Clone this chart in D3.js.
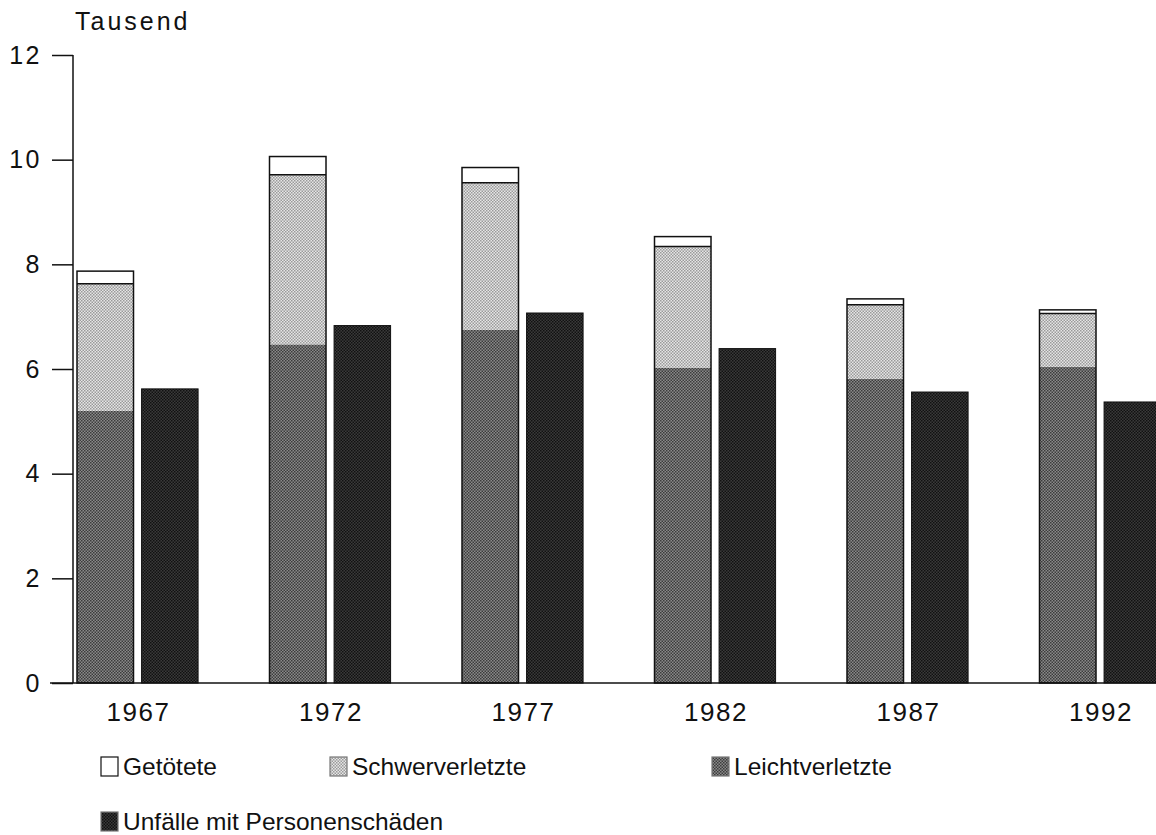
<!DOCTYPE html>
<html><head><meta charset="utf-8">
<script src="https://cdn.jsdelivr.net/npm/d3@7"></script>
<style>body{margin:0;background:#fff}svg{display:block}text{font-family:"Liberation Sans",Arial,sans-serif;fill:#111}</style>
</head><body>
<svg id="c" width="1156" height="835"></svg>
<script>
const years = ["1967","1972","1977","1982","1987","1992"];
const leicht = [5.20, 6.47, 6.75, 6.02, 5.81, 6.04];
const schwer = [2.43, 3.24, 2.81, 2.32, 1.42, 1.02];
const getoetete = [0.24, 0.35, 0.29, 0.19, 0.11, 0.07];
const unfaelle = [5.62, 6.83, 7.07, 6.39, 5.56, 5.37];
const yTicks = [0, 2, 4, 6, 8, 10, 12];
const legendLabels = ["Getötete", "Schwerverletzte", "Leichtverletzte", "Unfälle mit Personenschäden"];

const svg = d3.select("#c");
const defs = svg.append("defs");
function checker(id, a, b, size){
  const p = defs.append("pattern").attr("id", id).attr("width", size*2).attr("height", size*2).attr("patternUnits","userSpaceOnUse");
  p.append("rect").attr("width", size*2).attr("height", size*2).attr("fill", b);
  p.append("rect").attr("width", size).attr("height", size).attr("fill", a);
  p.append("rect").attr("x", size).attr("y", size).attr("width", size).attr("height", size).attr("fill", a);
}
checker("pSchwer", "#9a9a9a", "#e6e6e6", 1.5);
checker("pLeicht", "#3c3c3c", "#8a8a8a", 1.5);
checker("pUnf", "#111", "#3a3a3a", 1.5);

const step = 192.5, padIn = 0.371;
const y = d3.scaleLinear().domain([0, 12]).range([683, 55]);
const x = d3.scaleBand().domain(years).range([77, 77 + step*(years.length - padIn)]).paddingInner(padIn).paddingOuter(0).align(0);
const sub = d3.scaleBand().domain(["stack","unf"]).range([0, x.bandwidth()]).paddingInner(0.125).paddingOuter(0);

// bars
const g = svg.append("g");
years.forEach((yr, i) => {
  const x0 = x(yr) + sub("stack"), w = sub.bandwidth();
  const l = leicht[i], s = schwer[i], t = getoetete[i];
  g.append("rect").attr("x", x0).attr("y", y(l)).attr("width", w).attr("height", y(0)-y(l)).attr("fill","url(#pLeicht)");
  g.append("rect").attr("x", x0).attr("y", y(l+s)).attr("width", w).attr("height", y(l)-y(l+s)).attr("fill","url(#pSchwer)");
  g.append("rect").attr("x", x0).attr("y", y(l+s+t)).attr("width", w).attr("height", y(l+s)-y(l+s+t)).attr("fill","#fff");
  g.append("rect").attr("x", x0).attr("y", y(l+s+t)).attr("width", w).attr("height", y(0)-y(l+s+t)).attr("fill","none").attr("stroke","#111").attr("stroke-width",1.5);
  g.append("line").attr("x1", x0).attr("x2", x0+w).attr("y1", y(l+s)).attr("y2", y(l+s)).attr("stroke","#111").attr("stroke-width",1.5);
  const xu = x(yr) + sub("unf");
  g.append("rect").attr("x", xu).attr("y", y(unfaelle[i])).attr("width", w).attr("height", y(0)-y(unfaelle[i])).attr("fill","url(#pUnf)").attr("stroke","#111").attr("stroke-width",1);
});

// y axis
const yAxis = d3.axisLeft(y).tickValues(yTicks).tickSize(21).tickPadding(10).tickFormat(d3.format("d"));
const ya = svg.append("g").attr("transform","translate(73,0)").call(yAxis);
ya.select(".domain").attr("stroke","#111").attr("stroke-width",1.5).attr("d","M0,55V683");
ya.selectAll(".tick line").attr("stroke","#111").attr("stroke-width",1.5);
ya.selectAll(".tick text").attr("font-size",25).attr("letter-spacing",2.5).attr("fill","#111").style("font-family",'"Liberation Sans",Arial,sans-serif');

// x axis baseline
const xAxis = d3.axisBottom(x).tickSize(0).tickPadding(20);
const xa = svg.append("g").attr("transform","translate(0,683)").call(xAxis);
xa.select(".domain").attr("d","M50,0H1156").attr("stroke","#111").attr("stroke-width",1.5);
xa.selectAll(".tick").attr("transform", d => `translate(${x(d) + x.bandwidth()/2 + 1},0)`);
xa.selectAll(".tick text").attr("font-size",26).attr("letter-spacing",1.5).attr("fill","#111").style("font-family",'"Liberation Sans",Arial,sans-serif');

svg.append("text").attr("x",75).attr("y",30).attr("font-size",25).attr("letter-spacing",3).text("Tausend");

// legend
const legFills = ["#fff","url(#pSchwer)","url(#pLeicht)","url(#pUnf)"];
const legPos = [[101,757],[330,757],[712,757],[101,812]];
legendLabels.forEach((lab, i) => {
  const [lx, ly] = legPos[i];
  svg.append("rect").attr("x", lx).attr("y", ly).attr("width", 17).attr("height", 19).attr("fill", legFills[i]).attr("stroke", i===0 ? "#111" : "#777").attr("stroke-width", 1.2);
  svg.append("text").attr("x", lx+22).attr("y", ly+18).attr("font-size",24.5).text(lab);
});
</script>
</body></html>
